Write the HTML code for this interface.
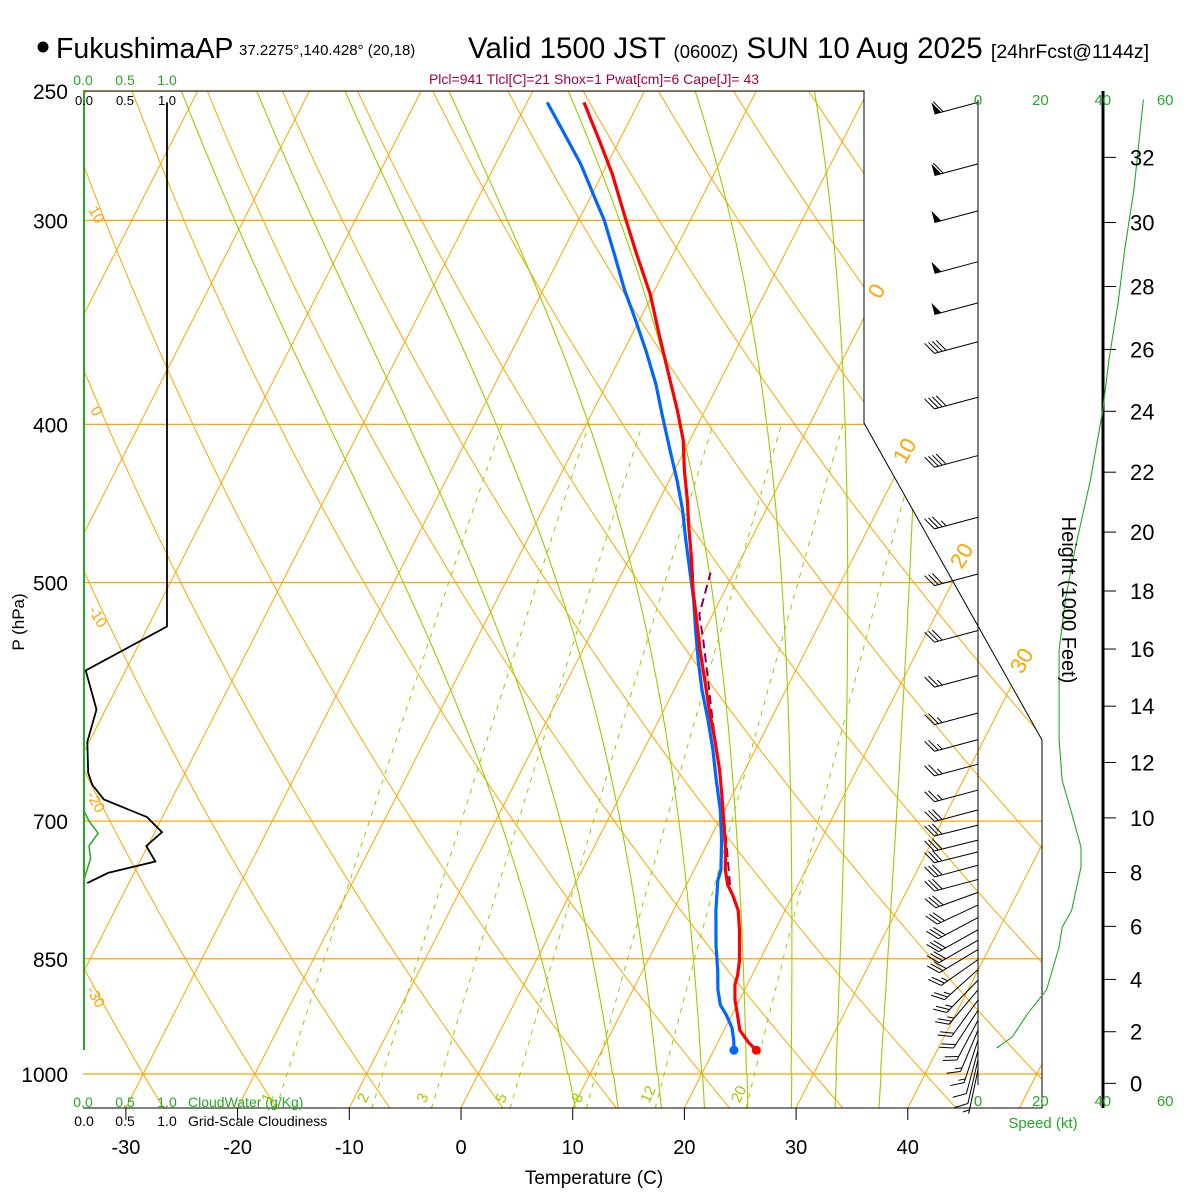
<!DOCTYPE html>
<html><head><meta charset="utf-8">
<style>
html,body{margin:0;padding:0;background:#fff;}
svg{display:block;font-family:"Liberation Sans",Arial,sans-serif;}
</style></head>
<body>
<svg id="chart" width="1200" height="1200" viewBox="0 0 1200 1200" xmlns="http://www.w3.org/2000/svg">
<defs>
<clipPath id="plotclip"><polygon points="83,91 864,91 864,423 1042,740 1042,1108 83,1108"/></clipPath>
<clipPath id="mixclip"><polygon points="83,423 864,423 1042,740 1042,1108 83,1108"/></clipPath>
</defs>
<rect x="0" y="0" width="1200" height="1200" fill="#fff"/>
<g id="grid" clip-path="url(#plotclip)"></g>
<g id="mixg" clip-path="url(#mixclip)"></g>
<g id="profiles" clip-path="url(#plotclip)"></g>
<g id="frame">
<polyline points="83,91 864,91 864,423 1042,740 1042,1108 83,1108" fill="none" stroke="#000" stroke-width="1"/>
<line x1="84" y1="92" x2="84" y2="1050" stroke="#22aa22" stroke-width="2"/>
<line x1="978" y1="100" x2="978" y2="1085" stroke="#000" stroke-width="1"/>
<line x1="1103" y1="91" x2="1103" y2="1108" stroke="#000" stroke-width="3"/>
</g>
<g id="left-panel"></g>
<g id="winds"></g>
<g id="speedg"></g>
<g id="heightaxis"></g>
<g id="texts">
<circle cx="43" cy="47" r="5.5" fill="#000"/>
<text x="56" y="58" font-size="28.5">FukushimaAP</text>
<text x="239" y="55" font-size="15">37.2275°,140.428° (20,18)</text>
<text x="468" y="58" font-size="29.5">Valid 1500 JST <tspan font-size="18.5">(0600Z)</tspan> SUN 10 Aug 2025 <tspan font-size="19.5">[24hrFcst@1144z]</tspan></text>
<text x="594" y="84" font-size="14" fill="#aa0044" text-anchor="middle">Plcl=941 Tlcl[C]=21 Shox=1 Pwat[cm]=6 Cape[J]= 43</text>
<text x="83" y="85" font-size="14" fill="#22aa22" text-anchor="middle">0.0</text>
<text x="125" y="85" font-size="14" fill="#22aa22" text-anchor="middle">0.5</text>
<text x="167" y="85" font-size="14" fill="#22aa22" text-anchor="middle">1.0</text>
<text x="84" y="105" font-size="13" text-anchor="middle">0.0</text>
<text x="125" y="105" font-size="13" text-anchor="middle">0.5</text>
<text x="167" y="105" font-size="13" text-anchor="middle">1.0</text>
<text x="83" y="1107" font-size="14" fill="#22aa22" text-anchor="middle">0.0</text>
<text x="125" y="1107" font-size="14" fill="#22aa22" text-anchor="middle">0.5</text>
<text x="167" y="1107" font-size="14" fill="#22aa22" text-anchor="middle">1.0</text>
<text x="188" y="1107" font-size="14" fill="#22aa22">CloudWater (g/Kg)</text>
<text x="84" y="1126" font-size="14" text-anchor="middle">0.0</text>
<text x="125" y="1126" font-size="14" text-anchor="middle">0.5</text>
<text x="167" y="1126" font-size="14" text-anchor="middle">1.0</text>
<text x="188" y="1126" font-size="14">Grid-Scale Cloudiness</text>
<text x="594" y="1184" font-size="19" text-anchor="middle">Temperature (C)</text>
<text transform="translate(24,622) rotate(-90)" font-size="17" text-anchor="middle">P (hPa)</text>
<text transform="translate(1062,600) rotate(90)" font-size="20" text-anchor="middle">Height (1000 Feet)</text>
<text x="1043" y="1128" font-size="15" fill="#22aa22" text-anchor="middle">Speed (kt)</text>
</g>
</svg>
<script>
// ---- data ----
const pressureTicks = [250, 300, 400, 500, 700, 850, 1000];
const tempTicks = [-30, -20, -10, 0, 10, 20, 30, 40];
const heightTicks = [0, 2, 4, 6, 8, 10, 12, 14, 16, 18, 20, 22, 24, 26, 28, 30, 32];
const speedTicks = [0, 20, 40, 60];
const mixRatios = [1, 2, 3, 5, 8, 12, 20];
const moistThetas = [8, 12, 16, 20, 24, 28, 32, 36];
const tempP = [254,268,281,298,315,333,353,376,392,409,427,445,464,484,505,527,550,574,599,624,651,679,709,729,750,766,777,794,816,852,870,882,901,920,940,956,967];
const tempT = [-34.9,-31.8,-29.1,-26.1,-23.2,-20.2,-17.5,-14.5,-12.5,-10.6,-9.1,-7.5,-6.0,-4.4,-2.9,-1.2,0.5,2.3,4.1,5.9,7.7,9.3,10.9,11.9,12.8,13.7,14.6,15.8,16.8,18.2,18.7,18.9,19.6,20.5,21.4,22.7,23.8];
const dewP = [254,266,277,292,300,315,331,345,360,378,395,415,433,451,471,491,512,535,558,582,607,633,661,689,719,750,761,794,834,864,888,907,920,937,953,967];
const dewT = [-38.2,-35.1,-32.4,-29.3,-27.7,-25.2,-22.7,-20.4,-18.1,-15.6,-13.6,-11.3,-9.3,-7.5,-5.8,-4.1,-2.4,-0.8,0.8,2.5,4.4,6.2,7.9,9.6,11.1,12.4,12.6,13.8,15.4,16.7,17.6,18.5,19.5,20.6,21.3,21.8];
const parcelP = [766,719,679,642,607,574,542,523,493];
const parcelT = [13.9,11.5,9.3,7.1,4.8,2.6,0.3,-1.2,-2.1];
const cloudP = [254,532,566,598,626,654,665,679,696,711,725,741,753,764];
const cloudFrac = [1.0,1.0,0.02,0.15,0.04,0.05,0.1,0.24,0.76,0.94,0.75,0.86,0.29,0.04];
const cwP = [690,700,712,725,738,760];
const cwVal = [0.0,0.06,0.17,0.06,0.08,0.0];
const speedP = [964,949,918,888,836,813,794,747,726,692,661,624,590,550,512,478,433,392,365,336,313,287,253];
const speedKt = [6,11,16,22,26,27,30,33,33,30,27,26,26,26,28,31,36,40,42,45,47,50,53];
const barbP = [254,277,296,318,337,356,385,418,456,494,535,570,601,624,646,670,689,704,719,731,745,760,774,788,802,816,828,839,851,863,876,888,901,914,927,940,953,967,980,994];
const barbSpd = [60,60,50,50,50,40,40,40,35,30,30,25,25,25,25,25,30,30,30,30,30,30,30,30,30,30,30,30,25,25,25,25,20,20,20,15,15,10,10,5];
const barbDir = [255,255,255,255,255,255,255,255,255,255,255,255,255,255,255,255,255,256,256,256,255,255,250,245,242,241,240,239,235,228,224,220,216,213,208,203,198,195,193,192];

// ---- axes ----
const NS = "http://www.w3.org/2000/svg";
const X0 = 461, PXC = 11.17, SK = 0.51, YB = 1108;
function yP(p){ return 1074 + 709*Math.log(p/1000); }
function xTP(T,p){ return X0 + PXC*T + SK*(YB - yP(p)); }
function spdX(s){ return 978 + 3.12*s; }
function cloudX(c){ return 84 + 83*c; }
function hY(kft){ const m = kft*1000/3.28084; const p = 1013.25*Math.pow(1 - m/44330.8, 1/0.190263); return yP(p); }
function mk(tag, attrs, parent){ const e = document.createElementNS(NS, tag); for (const k in attrs) e.setAttribute(k, attrs[k]); parent.appendChild(e); return e; }
function pts(arr){ return arr.map(a => a[0].toFixed(1)+","+a[1].toFixed(1)).join(" "); }
function es(T){ return 6.112*Math.exp(17.67*T/(T+243.5)); }

const grid = document.getElementById('grid');
const mixg = document.getElementById('mixg');
const prof = document.getElementById('profiles');
const texts = document.getElementById('texts');

// horizontal pressure lines
pressureTicks.forEach(p => {
  const y = yP(p);
  const l = mk('line', {x1:83, y1:y, x2:1042, y2:y, stroke:'#ffa500', 'stroke-width':1.2}, grid);
  
  
  const t = mk('text', {x:68, y:y+8, 'font-size':21, 'text-anchor':'end'}, texts);
  t.textContent = p;
  
  
});

// isotherms
for (let T = -110; T <= 50; T += 10) {
  const a = [[xTP(T,1049), yP(1049)], [xTP(T,250), yP(250)]];
  const l = mk('polyline', {points: pts(a), fill:'none', stroke:'#ffa500', 'stroke-width':1}, grid);
  
  
}
// dry adiabats
for (let th = -40; th <= 140; th += 10) {
  const a = [];
  for (let p = 1050; p >= 245; p -= 10) { const T = (th+273.15)*Math.pow(p/1000, 0.2857) - 273.15; a.push([xTP(T,p), yP(p)]); }
  const l = mk('polyline', {points: pts(a), fill:'none', stroke:'#ffa500', 'stroke-width':1}, grid);
  
  
}
// moist adiabats
function dTdp(T,p){ const Tk=T+273.15, e=es(T), ws=0.622*e/(p-e), Rd=287.04, cp=1005.7, L=2.501e6;
  return (Rd*Tk + L*ws)/(p*(cp + L*L*ws*0.622/(Rd*Tk*Tk))); }
moistThetas.forEach(tw => {
  const up = []; let T = tw;
  for (let p = 1000; p >= 250; p -= 2) { if ((1000-p)%10===0) up.push([xTP(T,p), yP(p)]); T -= dTdp(T,p)*2; }
  const dn = []; T = tw;
  for (let p = 1000; p <= 1050; p += 2) { T += dTdp(T,p)*2; if ((p)%10===0) dn.push([xTP(T,p), yP(p)]); }
  const a = dn.reverse().concat(up);
  const l = mk('polyline', {points: pts(a), fill:'none', stroke:'#99cc00', 'stroke-width':1.1}, grid);
  
  
});
// mixing ratio lines
mixRatios.forEach(w => {
  const a = [];
  for (let p = 1050; p >= 400; p -= 10) { const e = w*p/(622+w); const ln = Math.log(e/6.112); const T = 243.5*ln/(17.67-ln); a.push([xTP(T,p), yP(p)]); }
  const l = mk('polyline', {points: pts(a), fill:'none', stroke:'#99cc00', 'stroke-width':1, 'stroke-dasharray':'5,6'}, mixg);
  
  
  const e = w*1040/(622+w); const ln = Math.log(e/6.112); const T = 243.5*ln/(17.67-ln);
  const x = xTP(T,1040) - 8, y = yP(1040) + 2;
  const t = mk('text', {x:x, y:y, 'font-size':15, fill:'#99cc00', transform:'rotate(-65 '+x+' '+y+')'}, texts);
  t.textContent = w;
  
  
});

// isotherm labels (right) and dry-adiabat labels (left)
[[0,880,300],[10,905,465],[20,962,570],[30,1022,675]].forEach(d => {
  const t = mk('text', {x:d[1], y:d[2], 'font-size':22, fill:'#ffa500', transform:'rotate(-60 '+d[1]+' '+d[2]+')'}, texts);
  t.textContent = d[0];
  
  
});
[[10,88,210],[0,90,410],[-10,88,610],[-20,86,795],[-30,86,990]].forEach(d => {
  const t = mk('text', {x:d[1], y:d[2], 'font-size':15, fill:'#ffa500', transform:'rotate(60 '+d[1]+' '+d[2]+')'}, texts);
  t.textContent = d[0];
  
  
});

// temperature ticks
tempTicks.forEach(T => {
  const x = X0 + PXC*T;
  const l = mk('line', {x1:x, y1:1108, x2:x, y2:1120, stroke:'#000'}, texts);
  
  
  const t = mk('text', {x:x, y:1154, 'font-size':20, 'text-anchor':'middle'}, texts);
  t.textContent = T;
  
  
});

// profiles
function profile(P, T, color, w, dash, name){
  const a = P.map((p,i) => [xTP(T[i],p), yP(p)]);
  const attrs = {points: pts(a), fill:'none', stroke:color, 'stroke-width':w, 'stroke-linejoin':'round'};
  if (dash) attrs['stroke-dasharray'] = dash;
  const l = mk('polyline', attrs, prof);
  
  
  return a;
}
profile(parcelP, parcelT, '#800060', 2, '9,5', 'parcel-path');
const dp = profile(dewP, dewT, '#0066ff', 3.2, null, 'dewpoint-line');
const tp = profile(tempP, tempT, '#ff0000', 3.2, null, 'temperature-line');
const c1 = mk('circle', {cx: dp[dp.length-1][0], cy: dp[dp.length-1][1], r:4.5, fill:'#0066ff'}, prof);


const c2 = mk('circle', {cx: tp[tp.length-1][0], cy: tp[tp.length-1][1], r:4.5, fill:'#ff0000'}, prof);



// cloud panel
const lp = document.getElementById('left-panel');
const cl = mk('polyline', {points: pts(cloudP.map((p,i) => [cloudX(cloudFrac[i]), yP(p)])), fill:'none', stroke:'#000', 'stroke-width':1.8}, lp);


const cw = mk('polyline', {points: pts(cwP.map((p,i) => [cloudX(cwVal[i]), yP(p)])), fill:'none', stroke:'#22aa22', 'stroke-width':1.5}, lp);



// speed axis labels
speedTicks.forEach(s => {
  [105, 1106].forEach(y => {
    const t = mk('text', {x:spdX(s), y:y, 'font-size':15, fill:'#22aa22', 'text-anchor':'middle'}, texts);
    t.textContent = s;
    
    
  });
});
// height axis
const ha = document.getElementById('heightaxis');
heightTicks.forEach(h => {
  const y = hY(h);
  const l = mk('line', {x1:1103, y1:y, x2:1116, y2:y, stroke:'#000', 'stroke-width':1}, ha);
  
  
  const t = mk('text', {x:1130, y:y+8, 'font-size':22}, ha);
  t.textContent = h;
  
  
});
// speed profile
const sg = document.getElementById('speedg');
const sl = mk('polyline', {points: pts(speedP.map((p,i) => [spdX(speedKt[i]), yP(p)])), fill:'none', stroke:'#22aa22', 'stroke-width':1.1}, sg);



// wind barbs
const wg = document.getElementById('winds');
barbP.forEach((p,i) => {
  const y = yP(p), bx = 978;
  const th = barbDir[i]*Math.PI/180;
  const d = [Math.sin(th), -Math.cos(th)];
  const perp = [-d[1], d[0]];
  const L = 45;
  const tip = [bx + L*d[0], y + L*d[1]];
  const g = mk('g', {}, wg);
  
  
  mk('line', {x1:bx, y1:y, x2:tip[0], y2:tip[1], stroke:'#000', 'stroke-width':1}, g);
  let s = Math.round(barbSpd[i]/5)*5;
  let pos = 0;
  const bv = [14*(0.87*perp[0]+0.5*d[0]), 14*(0.87*perp[1]+0.5*d[1])];
  while (s >= 50) {
    const p0 = [tip[0]-pos*d[0], tip[1]-pos*d[1]];
    const p2 = [tip[0]-(pos+7)*d[0], tip[1]-(pos+7)*d[1]];
    const p1 = [p0[0]+12*perp[0], p0[1]+12*perp[1]];
    mk('polygon', {points: pts([p0,p1,p2]), fill:'#000'}, g);
    pos += 9; s -= 50;
  }
  while (s >= 10) {
    const p0 = [tip[0]-pos*d[0], tip[1]-pos*d[1]];
    mk('line', {x1:p0[0], y1:p0[1], x2:p0[0]+bv[0], y2:p0[1]+bv[1], stroke:'#000', 'stroke-width':1}, g);
    pos += 4; s -= 10;
  }
  if (s >= 5) {
    if (pos === 0) pos = 4;
    const p0 = [tip[0]-pos*d[0], tip[1]-pos*d[1]];
    mk('line', {x1:p0[0], y1:p0[1], x2:p0[0]+bv[0]/2, y2:p0[1]+bv[1]/2, stroke:'#000', 'stroke-width':1}, g);
  }
});
</script>
</body></html>
